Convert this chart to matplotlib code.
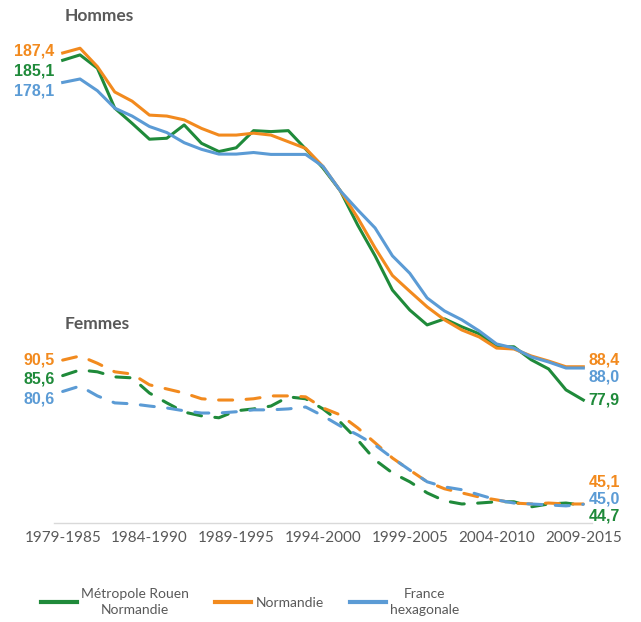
import matplotlib
matplotlib.use("Agg")
import matplotlib.pyplot as plt
import numpy as np

periods = [f"{y}-{y+6}" for y in range(1979, 2010)]
tick_labels = ["1979-1985", "1984-1990", "1989-1995", "1994-2000",
               "1999-2005", "2004-2010", "2009-2015"]
series_names = ["Métropole Rouen\nNormandie", "Normandie", "France\nhexagonale"]

hommes_rouen = [185.1, 186.8, 182.6, 170.0, 165.2, 160.2, 160.5, 164.7, 158.9, 156.3,
                157.5, 162.9, 162.6, 162.9, 157.1, 151.1, 143.9, 133.1, 123.4, 112.6,
                106.3, 101.6, 103.5, 101.0, 98.8, 94.7, 94.7, 90.6, 87.7, 81.1, 77.9]
hommes_normandie = [187.4, 188.9, 183.1, 175.1, 172.2, 167.8, 167.5, 166.3, 163.6, 161.5,
                    161.5, 162.1, 161.5, 159.4, 157.3, 151.6, 143.9, 135.4, 125.9, 117.2,
                    112.2, 107.3, 103.2, 100.0, 97.8, 94.3, 94.0, 91.8, 90.2, 88.4, 88.4]
hommes_france = [178.1, 179.2, 175.5, 170.0, 167.5, 164.2, 162.3, 159.1, 157.0, 155.5,
                 155.5, 156.0, 155.4, 155.4, 155.4, 151.6, 143.9, 137.9, 132.2, 123.4,
                 117.9, 110.1, 106.0, 103.2, 99.7, 95.6, 94.3, 91.5, 89.9, 88.0, 88.0]

femmes_rouen = [85.6, 87.4, 86.8, 85.2, 84.9, 80.1, 77.0, 74.1, 72.9, 72.3,
                74.5, 75.1, 76.0, 78.9, 78.3, 75.1, 70.9, 65.3, 59.0, 54.9,
                52.1, 48.6, 46.1, 45.1, 45.4, 45.8, 45.8, 44.2, 45.1, 45.4, 44.7]
femmes_normandie = [90.5, 91.8, 89.5, 86.8, 86.1, 82.7, 81.4, 80.1, 78.3, 77.9,
                    77.9, 78.3, 79.2, 79.2, 78.9, 75.4, 73.2, 69.1, 64.4, 59.6,
                    55.8, 52.1, 49.9, 48.6, 47.3, 46.4, 45.4, 45.1, 45.4, 45.1, 45.1]
femmes_france = [80.6, 82.3, 79.2, 77.0, 76.7, 76.0, 75.4, 74.5, 73.8, 73.8,
                 74.2, 74.8, 74.8, 75.1, 75.7, 72.9, 69.7, 66.9, 63.7, 59.6,
                 55.8, 52.1, 50.5, 49.6, 48.0, 46.4, 45.4, 45.1, 44.8, 44.5, 45.0]

colors = ["#1f8a3a", "#f28a1e", "#5b9bd5"]

W, H = 641, 622
fig = plt.figure(figsize=(W / 100, H / 100), dpi=100)
left, right, bottom, top = 54, 592, 523, 40
ax = fig.add_axes([left / W, 1 - bottom / H, (right - left) / W, (bottom - top) / H])

x = np.arange(len(periods))
hommes = [hommes_rouen, hommes_normandie, hommes_france]
femmes = [femmes_rouen, femmes_normandie, femmes_france]

lw = 2.2
for vals, c, name in zip(hommes, colors, series_names):
    ax.plot(x, vals, color=c, lw=lw, solid_joinstyle="round", label=name)
for vals, c in zip(femmes, colors):
    ax.plot(x, vals, color=c, lw=lw, linestyle=(0, (4.6, 4.4)),
            dash_capstyle="round")

ax.set_xlim(-0.5, len(periods) - 0.5)
ax.set_ylim(39.1, 191.5)
ax.set_yticks([])
tick_pos = [periods.index(t) for t in tick_labels]
ax.set_xticks(tick_pos)
ax.set_xticklabels(tick_labels, fontfamily="Lato", fontsize=11, color="#595959")
ax.tick_params(axis="x", length=0, pad=6)
for s in ["top", "left", "right"]:
    ax.spines[s].set_visible(False)
ax.spines["bottom"].set_color("#d9d9d9")
ax.spines["bottom"].set_linewidth(1.0)

lab_font = dict(fontfamily="Liberation Sans", fontweight="bold", fontsize=11.5)

def lab(vals, idx, dy, ha, c):
    dx = -8 if ha == "right" else 5
    ax.annotate(f"{vals[idx]:.1f}".replace(".", ","), (x[idx], vals[idx]),
                xytext=(dx, dy), textcoords="offset pixels", ha=ha, va="center",
                color=c, **lab_font)

# left labels (rouen, normandie, france)
for vals, c, dy in zip(hommes, colors, [-11, 2, -9]):
    lab(vals, 0, dy, "right", c)
for vals, c, dy in zip(femmes, colors, [-3, 0, -8]):
    lab(vals, 0, dy, "right", c)
# right labels
for vals, c, dy in zip(hommes, colors, [0, 7, -9]):
    lab(vals, -1, dy, "left", c)
for vals, c, dy in zip(femmes, colors, [-11, 22, 5]):
    lab(vals, -1, dy, "left", c)

fig.text(65 / W, 1 - 16 / H, "Hommes", fontfamily="Lato", fontweight="bold",
         fontsize=12.5, color="#595959", va="center", ha="left")
fig.text(65 / W, 1 - 324 / H, "Femmes", fontfamily="Lato", fontweight="bold",
         fontsize=12.5, color="#595959", va="center", ha="left")

leg = fig.legend(loc="center", bbox_to_anchor=(250 / W, 1 - 602 / H), ncol=3,
                 frameon=False, handlelength=2.6, handletextpad=0.3,
                 columnspacing=1.9, prop=dict(family="Lato", size=10))
for t in leg.get_texts():
    t.set_color("#595959")
    t.set_multialignment("center")
    t.set_linespacing(1.45)
for h in leg.legend_handles:
    h.set_linewidth(3)

fig.savefig("out.png", dpi=100)
